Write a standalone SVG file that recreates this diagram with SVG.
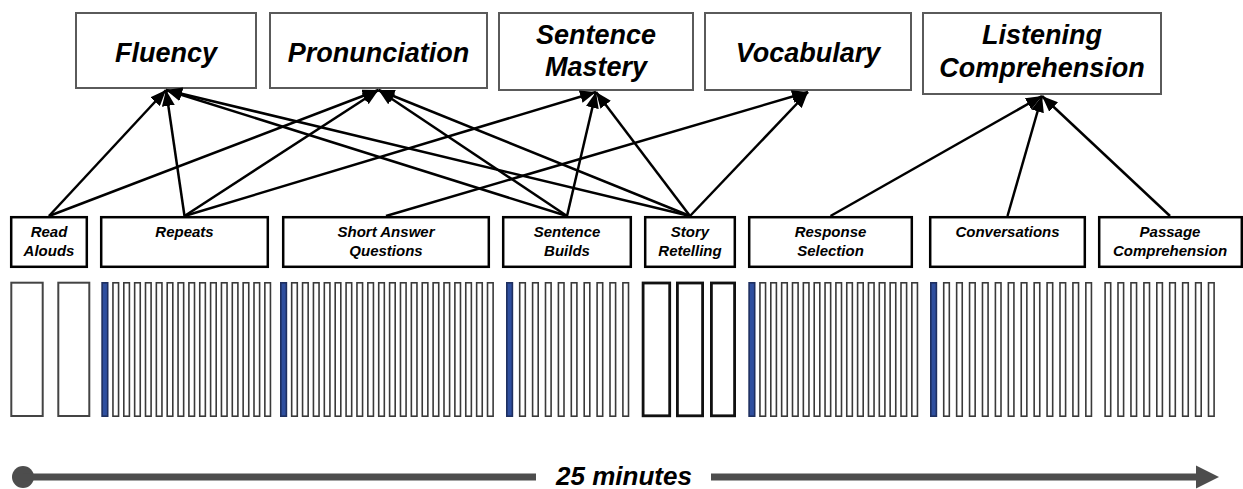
<svg xmlns="http://www.w3.org/2000/svg" xmlns:xlink="http://www.w3.org/1999/xlink" width="1243" height="489" viewBox="0 0 1243 489">
  <style>
    .skill { fill: #ffffff; stroke: #5a5a5a; stroke-width: 2; }
    .task { fill: #ffffff; stroke: #000000; stroke-width: 2.5; }
    .skill-label { font-family: "Liberation Sans", Arial, sans-serif; font-weight: bold; font-style: italic; font-size: 27px; fill: #000000; text-anchor: middle; }
    .task-label { font-family: "Liberation Sans", Arial, sans-serif; font-weight: bold; font-style: italic; font-size: 15px; fill: #000000; text-anchor: middle; }
    .link { stroke: #000000; stroke-width: 2.5; fill: none; marker-end: url(#head); }
    .item { fill: #ffffff; stroke: #3a3a3a; stroke-width: 1.6; }
    .item-first { fill: #2f4f9f; stroke: #1e2f60; stroke-width: 1.6; }
    .wide-gray { fill: #ffffff; stroke: #444444; stroke-width: 2; }
    .wide-black { fill: #ffffff; stroke: #111111; stroke-width: 2.8; }
    .time { stroke: #4d4d4d; stroke-width: 7; fill: none; }
    .time-label { font-family: "Liberation Sans", Arial, sans-serif; font-weight: bold; font-style: italic; font-size: 26px; fill: #000000; text-anchor: middle; }
  </style>
  <defs>
    <marker id="head" viewBox="0 0 16 13" refX="16" refY="6.5" markerWidth="16" markerHeight="13" markerUnits="userSpaceOnUse" orient="auto">
      <path d="M0,0 L16,6.5 L0,13 z" fill="#000000"/>
    </marker>
    <rect id="bar" class="item" x="0.8" y="282.8" width="5.6" height="133.4"/>
    <rect id="bar-first" class="item-first" x="0.8" y="282.8" width="5.6" height="133.4"/>
  </defs>

  <!-- skill boxes -->
  <g id="fluency">
    <rect class="skill" x="76" y="13" width="180" height="75"/>
    <text class="skill-label" x="166" y="62">Fluency</text>
  </g>
  <g id="pronunciation">
    <rect class="skill" x="270" y="13" width="217" height="75"/>
    <text class="skill-label" x="378.5" y="62">Pronunciation</text>
  </g>
  <g id="sentence-mastery">
    <rect class="skill" x="499" y="13" width="194" height="77"/>
    <text class="skill-label" x="596" y="44">Sentence</text>
    <text class="skill-label" x="596" y="76">Mastery</text>
  </g>
  <g id="vocabulary">
    <rect class="skill" x="705" y="13" width="206" height="77"/>
    <text class="skill-label" x="808" y="62">Vocabulary</text>
  </g>
  <g id="listening-comprehension">
    <rect class="skill" x="923" y="13" width="238" height="81"/>
    <text class="skill-label" x="1042" y="44">Listening</text>
    <text class="skill-label" x="1042" y="77">Comprehension</text>
  </g>

  <!-- task boxes -->
  <g id="read-alouds">
    <rect class="task" x="11.2" y="217.2" width="75.6" height="49.6"/>
    <text class="task-label" x="49" y="237">Read</text>
    <text class="task-label" x="49" y="256">Alouds</text>
  </g>
  <g id="repeats">
    <rect class="task" x="101.2" y="217.2" width="166.6" height="49.6"/>
    <text class="task-label" x="184.5" y="237">Repeats</text>
  </g>
  <g id="short-answer">
    <rect class="task" x="283.2" y="217.2" width="205.6" height="49.6"/>
    <text class="task-label" x="386" y="237">Short Answer</text>
    <text class="task-label" x="386" y="256">Questions</text>
  </g>
  <g id="sentence-builds">
    <rect class="task" x="503.2" y="217.2" width="127.6" height="49.6"/>
    <text class="task-label" x="567" y="237">Sentence</text>
    <text class="task-label" x="567" y="256">Builds</text>
  </g>
  <g id="story-retelling">
    <rect class="task" x="645.2" y="217.2" width="89.6" height="49.6"/>
    <text class="task-label" x="690" y="237">Story</text>
    <text class="task-label" x="690" y="256">Retelling</text>
  </g>
  <g id="response-selection">
    <rect class="task" x="749.2" y="217.2" width="162.6" height="49.6"/>
    <text class="task-label" x="830.5" y="237">Response</text>
    <text class="task-label" x="830.5" y="256">Selection</text>
  </g>
  <g id="conversations">
    <rect class="task" x="930.2" y="217.2" width="154.6" height="49.6"/>
    <text class="task-label" x="1007.5" y="237">Conversations</text>
  </g>
  <g id="passage-comprehension">
    <rect class="task" x="1099.2" y="217.2" width="142.6" height="49.6"/>
    <text class="task-label" x="1170" y="237">Passage</text>
    <text class="task-label" x="1170" y="256">Comprehension</text>
  </g>

  <!-- connectors: task -> skill -->
  <g id="connectors">
    <line class="link" x1="49" y1="216" x2="166" y2="90"/>
    <line class="link" x1="49" y1="216" x2="378.5" y2="90"/>
    <line class="link" x1="184.5" y1="216" x2="166" y2="90"/>
    <line class="link" x1="184.5" y1="216" x2="378.5" y2="90"/>
    <line class="link" x1="184.5" y1="216" x2="596" y2="92"/>
    <line class="link" x1="386" y1="216" x2="808" y2="92"/>
    <line class="link" x1="567" y1="216" x2="166" y2="90"/>
    <line class="link" x1="567" y1="216" x2="378.5" y2="90"/>
    <line class="link" x1="567" y1="216" x2="596" y2="92"/>
    <line class="link" x1="690" y1="216" x2="166" y2="90"/>
    <line class="link" x1="690" y1="216" x2="378.5" y2="90"/>
    <line class="link" x1="690" y1="216" x2="596" y2="92"/>
    <line class="link" x1="690" y1="216" x2="808" y2="92"/>
    <line class="link" x1="830.5" y1="216" x2="1042" y2="96"/>
    <line class="link" x1="1007.5" y1="216" x2="1042" y2="96"/>
    <line class="link" x1="1170" y1="216" x2="1042" y2="96"/>
  </g>

  <!-- item strips -->
  <g id="items-read-alouds">
    <rect class="wide-gray" x="11.3" y="282.7" width="31.4" height="133.3"/>
    <rect class="wide-gray" x="58.3" y="282.7" width="31" height="133.3"/>
  </g>
  <g id="items-repeats">
    <use xlink:href="#bar-first" x="101.3"/>
    <use xlink:href="#bar" x="112.15"/><use xlink:href="#bar" x="123"/><use xlink:href="#bar" x="133.85"/>
    <use xlink:href="#bar" x="144.7"/><use xlink:href="#bar" x="155.55"/><use xlink:href="#bar" x="166.4"/>
    <use xlink:href="#bar" x="177.25"/><use xlink:href="#bar" x="188.1"/><use xlink:href="#bar" x="198.95"/>
    <use xlink:href="#bar" x="209.8"/><use xlink:href="#bar" x="220.65"/><use xlink:href="#bar" x="231.5"/>
    <use xlink:href="#bar" x="242.35"/><use xlink:href="#bar" x="253.2"/><use xlink:href="#bar" x="264.05"/>
  </g>
  <g id="items-short-answer">
    <use xlink:href="#bar-first" x="280"/>
    <use xlink:href="#bar" x="290.88"/><use xlink:href="#bar" x="301.76"/><use xlink:href="#bar" x="312.64"/>
    <use xlink:href="#bar" x="323.52"/><use xlink:href="#bar" x="334.4"/><use xlink:href="#bar" x="345.28"/>
    <use xlink:href="#bar" x="356.16"/><use xlink:href="#bar" x="367.04"/><use xlink:href="#bar" x="377.92"/>
    <use xlink:href="#bar" x="388.8"/><use xlink:href="#bar" x="399.68"/><use xlink:href="#bar" x="410.56"/>
    <use xlink:href="#bar" x="421.44"/><use xlink:href="#bar" x="432.32"/><use xlink:href="#bar" x="443.2"/>
    <use xlink:href="#bar" x="454.08"/><use xlink:href="#bar" x="464.96"/><use xlink:href="#bar" x="475.84"/>
    <use xlink:href="#bar" x="486.72"/>
  </g>
  <g id="items-sentence-builds">
    <use xlink:href="#bar-first" x="506"/>
    <use xlink:href="#bar" x="518.9"/><use xlink:href="#bar" x="531.8"/><use xlink:href="#bar" x="544.7"/>
    <use xlink:href="#bar" x="557.6"/><use xlink:href="#bar" x="570.5"/><use xlink:href="#bar" x="583.4"/>
    <use xlink:href="#bar" x="596.3"/><use xlink:href="#bar" x="609.2"/><use xlink:href="#bar" x="622.1"/>
  </g>
  <g id="items-story-retelling">
    <rect class="wide-black" x="643.1" y="283" width="26.6" height="132.8"/>
    <rect class="wide-black" x="677.4" y="283" width="25.2" height="132.8"/>
    <rect class="wide-black" x="711.4" y="283" width="23.2" height="132.8"/>
  </g>
  <g id="items-response-selection">
    <use xlink:href="#bar-first" x="748.3"/>
    <use xlink:href="#bar" x="759.15"/><use xlink:href="#bar" x="770"/><use xlink:href="#bar" x="780.85"/>
    <use xlink:href="#bar" x="791.7"/><use xlink:href="#bar" x="802.55"/><use xlink:href="#bar" x="813.4"/>
    <use xlink:href="#bar" x="824.25"/><use xlink:href="#bar" x="835.1"/><use xlink:href="#bar" x="845.95"/>
    <use xlink:href="#bar" x="856.8"/><use xlink:href="#bar" x="867.65"/><use xlink:href="#bar" x="878.5"/>
    <use xlink:href="#bar" x="889.35"/><use xlink:href="#bar" x="900.2"/><use xlink:href="#bar" x="911.05"/>
  </g>
  <g id="items-conversations">
    <use xlink:href="#bar-first" x="930"/>
    <use xlink:href="#bar" x="942.92"/><use xlink:href="#bar" x="955.84"/><use xlink:href="#bar" x="968.76"/>
    <use xlink:href="#bar" x="981.68"/><use xlink:href="#bar" x="994.6"/><use xlink:href="#bar" x="1007.52"/>
    <use xlink:href="#bar" x="1020.44"/><use xlink:href="#bar" x="1033.36"/><use xlink:href="#bar" x="1046.28"/>
    <use xlink:href="#bar" x="1059.2"/><use xlink:href="#bar" x="1072.12"/><use xlink:href="#bar" x="1085.04"/>
  </g>
  <g id="items-passage">
    <use xlink:href="#bar" x="1104.3"/><use xlink:href="#bar" x="1117.2"/><use xlink:href="#bar" x="1130.15"/>
    <use xlink:href="#bar" x="1143.1"/><use xlink:href="#bar" x="1156"/><use xlink:href="#bar" x="1168.9"/>
    <use xlink:href="#bar" x="1181.85"/><use xlink:href="#bar" x="1194.8"/><use xlink:href="#bar" x="1207.7"/>
  </g>

  <!-- time axis -->
  <g id="timeline">
    <circle cx="23" cy="477" r="11" fill="#4d4d4d"/>
    <line class="time" x1="23" y1="477" x2="536" y2="477"/>
    <text class="time-label" x="624" y="485">25 minutes</text>
    <line class="time" x1="711" y1="477" x2="1198" y2="477"/>
    <polygon points="1196,465.5 1219,477 1196,488.5" fill="#4d4d4d"/>
  </g>
</svg>
